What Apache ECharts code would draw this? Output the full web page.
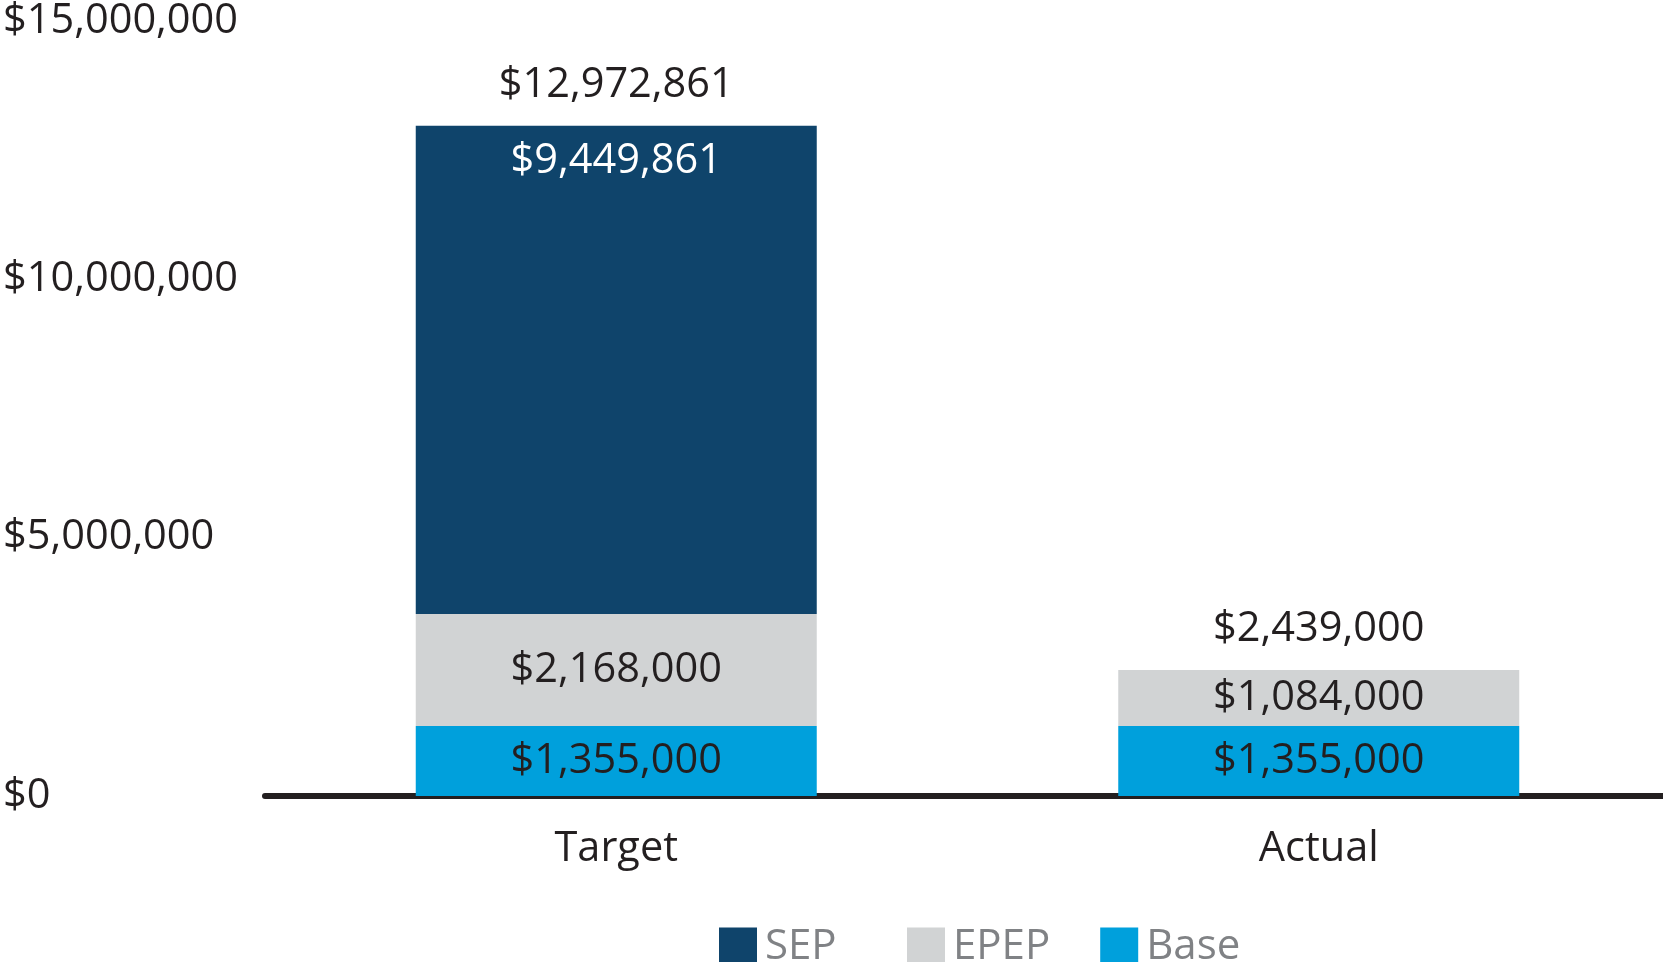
<!DOCTYPE html>
<html>
<head>
<meta charset="utf-8">
<script src="https://cdn.jsdelivr.net/npm/echarts@6/dist/echarts.min.js"></script>
<style>
html,body{margin:0;padding:0;background:#fff;overflow:hidden;}
#chart{width:1690px;height:962px;}
</style>
</head>
<body>
<div id="chart"></div>
<script>
const categories = ['Target', 'Actual'];
const baseValues = [1355000, 1355000];
const epepValues = [2168000, 1084000];
const sepValues = [9449861, null];
const totalValues = [12972861, 2439000];
const yTicks = [0, 5000000, 10000000, 15000000];

const FONT = '"Open Sans", "Noto Sans", sans-serif';
const DARK = '#231f20';
const FS = 41.5;
const fmt = v => '$' + Math.round(v).toLocaleString('en-US');

const legendCommon = {
  top: 921,
  itemWidth: 38,
  itemHeight: 39,
  icon: 'rect',
  selectedMode: false,
  textStyle: { fontFamily: FONT, fontSize: 42, color: '#808285', padding: [0, 0, 0, 3] }
};

const chart = echarts.init(document.getElementById('chart'));
chart.setOption({
  animation: false,
  backgroundColor: '#ffffff',
  textStyle: { fontFamily: FONT },
  grid: { left: 260, width: 1410, top: 21, bottom: 166, containLabel: false },
  legend: [
    Object.assign({}, legendCommon, { data: ['SEP'], left: 714 }),
    Object.assign({}, legendCommon, { data: ['EPEP', 'Base'], left: 902, itemGap: 50 })
  ],
  xAxis: {
    type: 'category',
    data: categories,
    axisLine: { show: true, lineStyle: { color: DARK, width: 6 } },
    axisTick: { show: false },
    axisLabel: { fontFamily: FONT, fontSize: FS, color: DARK, margin: 32 }
  },
  yAxis: {
    type: 'value',
    min: yTicks[0],
    max: yTicks[yTicks.length - 1],
    interval: yTicks[1] - yTicks[0],
    splitLine: { show: false },
    axisLine: { show: false },
    axisTick: { show: false },
    axisLabel: {
      fontFamily: FONT, fontSize: FS, color: DARK,
      align: 'left', margin: 262,
      formatter: v => fmt(v)
    }
  },
  series: [
    {
      name: 'Base', type: 'bar', stack: 'total', barWidth: 401,
      data: baseValues,
      itemStyle: { color: '#00a0dc' },
      label: { show: true, position: 'inside', fontFamily: FONT, fontSize: FS, color: DARK,
               formatter: p => fmt(p.value) }
    },
    {
      name: 'EPEP', type: 'bar', stack: 'total', barWidth: 401,
      data: epepValues,
      itemStyle: { color: '#d1d3d4' },
      label: { show: true, position: 'inside', fontFamily: FONT, fontSize: FS, color: DARK,
               formatter: p => fmt(p.value) }
    },
    {
      name: 'SEP', type: 'bar', stack: 'total', barWidth: 401,
      data: sepValues,
      itemStyle: { color: '#0f446b' },
      label: { show: true, position: 'insideTop', distance: 14, fontFamily: FONT, fontSize: FS, color: '#ffffff',
               formatter: p => (p.value == null ? '' : fmt(p.value)) }
    },
    {
      name: 'Total', type: 'bar', barWidth: 401, barGap: '-100%',
      data: totalValues,
      silent: true,
      z: 1,
      itemStyle: { color: 'rgba(0,0,0,0)' },
      label: { show: true, position: 'top', distance: 20, fontFamily: FONT, fontSize: FS, color: DARK,
               formatter: p => fmt(p.value) }
    }
  ]
});
</script>
</body>
</html>
